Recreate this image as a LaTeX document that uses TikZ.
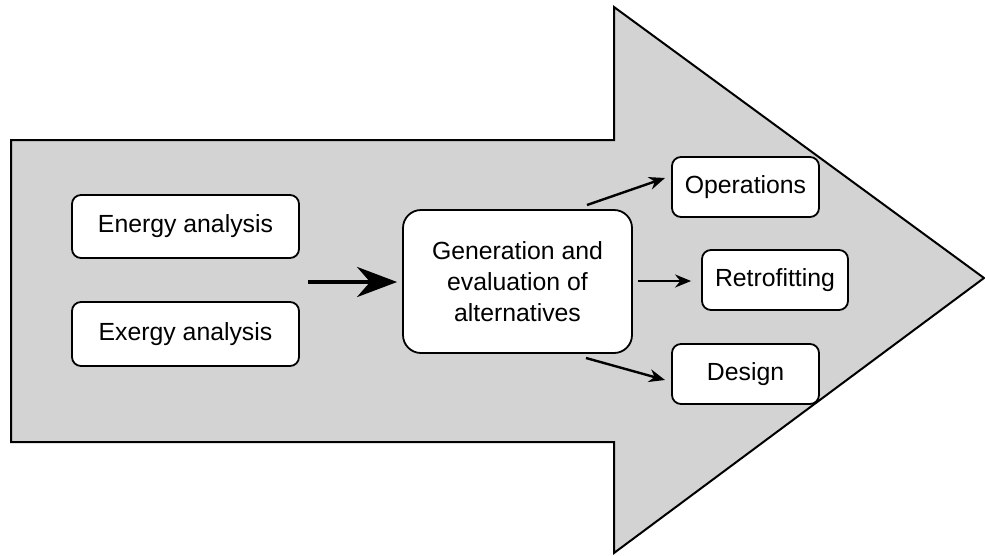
\documentclass[tikz,border=0pt]{standalone}
\usepackage{fontspec}
\setmainfont{Liberation Sans}
\usetikzlibrary{arrows.meta}
\definecolor{arrowgray}{RGB}{211,211,211}
\begin{document}
\begin{tikzpicture}[x=1pt,y=-1pt,
  every node/.style={font=\fontsize{24.8}{31}\selectfont},
  stagebox/.style={draw=black,line width=1.8pt,fill=white,rounded corners=9pt,inner sep=0pt,align=center},
  smallarrow/.style={line width=2.4pt,-{Stealth[length=16pt,width=13pt]}},
  bigarrow/.style={line width=4.5pt,-{Stealth[length=40pt,width=30pt]}}]
  \useasboundingbox (0,0) rectangle (985,555);
  % large background arrow
  \draw[line width=2pt,fill=arrowgray,line join=miter]
    (11,140) -- (614,140) -- (614,7) -- (984,278) -- (614,553) -- (614,442) -- (11,442) -- cycle;
  % stage boxes
  \node[stagebox,minimum width=227pt,minimum height=63pt] (energy) at (185.5,226.5) {Energy analysis};
  \node[stagebox,minimum width=227pt,minimum height=64pt] (exergy) at (185.5,334) {Exergy analysis};
  \node[stagebox,rounded corners=18pt,minimum width=229pt,minimum height=143pt] (gen) at (517.5,281.5)
    {Generation and\\evaluation of\\alternatives};
  \node[stagebox,minimum width=147pt,minimum height=60pt] (ops) at (745.5,187) {Operations};
  \node[stagebox,minimum width=146pt,minimum height=60pt] (retro) at (775,280) {Retrofitting};
  \node[stagebox,minimum width=147pt,minimum height=60pt] (design) at (745.5,374) {Design};
  % connectors
  \coordinate (in) at (308,282);
  \draw[bigarrow,shorten >=5pt] (in) -- (gen.west |- in);
  \coordinate (opsA) at (587,205);
  \coordinate (opsB) at (665,178);
  \draw[smallarrow] (opsA) -- (opsB);
  \coordinate (retA) at (638,281);
  \draw[smallarrow,shorten >=10pt] (retA) -- (retro.west |- retA);
  \coordinate (desA) at (586,358);
  \coordinate (desB) at (665,380);
  \draw[smallarrow] (desA) -- (desB);
\end{tikzpicture}
\end{document}
